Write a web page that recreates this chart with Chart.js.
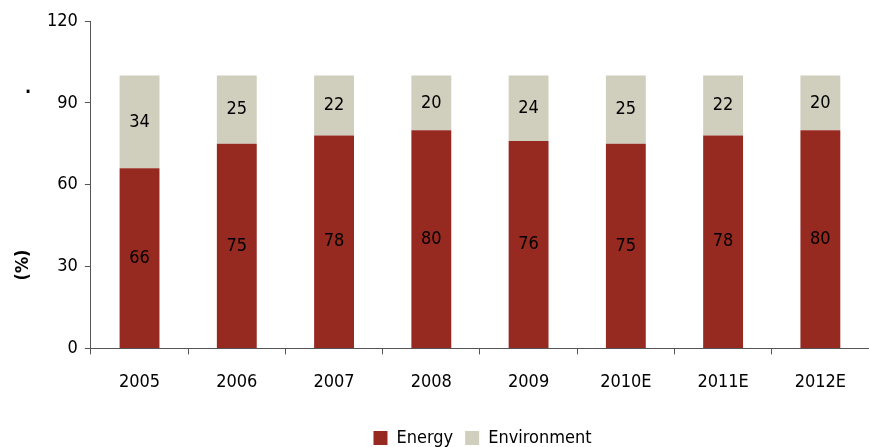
<!DOCTYPE html>
<html>
<head>
<meta charset="utf-8">
<script src="https://cdn.jsdelivr.net/npm/chart.js@4/dist/chart.umd.min.js"></script>
<style>
  html, body { margin: 0; padding: 0; background: #fff; }
  #wrap { width: 869px; height: 447px; position: relative; }
</style>
</head>
<body>
<div id="wrap"><canvas id="chartMix"></canvas></div>
<script>
const years = ['2005', '2006', '2007', '2008', '2009', '2010E', '2011E', '2012E'];
const energy = [66, 75, 78, 80, 76, 75, 78, 80];
const environment = [34, 25, 22, 20, 24, 25, 22, 20];
const yTicks = [0, 30, 60, 90, 120];

const FONT = '"DejaVu Sans Condensed", Roboto, sans-serif';

// value written in the middle of each stacked segment
const barLabels = {
    id: 'barLabels',
    afterDatasetsDraw(chart) {
        const c = chart.ctx;
        c.save();
        c.font = '18px ' + FONT;
        c.fillStyle = '#000';
        c.textAlign = 'center';
        c.textBaseline = 'middle';
        chart.data.datasets.forEach((ds, i) => {
            chart.getDatasetMeta(i).data.forEach((bar, j) => {
                const mid = (bar.y + bar.base) / 2;
                c.fillText(ds.data[j], bar.x, mid);
            });
        });
        c.restore();
    }
};

// unit label sits low on the left, with a stray dot above it
const unitLabel = {
    id: 'unitLabel',
    afterDraw(chart) {
        const c = chart.ctx;
        c.save();
        c.fillStyle = '#000';
        c.textAlign = 'center';
        c.textBaseline = 'middle';
        c.font = 'bold 18px ' + FONT;
        c.fillText('.', 28, 88);
        c.translate(23, 265);
        c.rotate(-Math.PI / 2);
        c.fillText('(%)', 0, 0);
        c.restore();
    }
};

// pull the legend down to the bottom edge and centre it under the bars
const legendLow = {
    id: 'legendLow',
    beforeInit(chart) {
        const fit = chart.legend.fit;
        chart.legend.fit = function () {
            fit.call(this);
            this.height -= 10;
        };
    },
    afterLayout(chart) {
        chart.legend.left += 28;
        chart.legend.right += 28;
    }
};

new Chart(document.getElementById('chartMix'), {
    type: 'bar',
    data: {
        labels: years,
        datasets: [{
            label: 'Energy',
            data: energy,
            backgroundColor: '#962920',
            barPercentage: 0.41,
            categoryPercentage: 1
        }, {
            label: 'Environment',
            data: environment,
            backgroundColor: '#d0cebc',
            barPercentage: 0.41,
            categoryPercentage: 1
        }]
    },
    options: {
        responsive: true,
        maintainAspectRatio: false,
        animation: false,
        layout: { padding: { top: 21, right: 0, left: 40, bottom: 0 } },
        scales: {
            x: {
                stacked: true,
                grid: { display: true, drawOnChartArea: false, tickLength: 6, color: '#555', offset: true },
                border: { color: '#555' },
                ticks: { color: '#000', font: { family: FONT, size: 18 }, padding: 17 },
                // leave room between the year labels and the legend
                afterFit: (scale) => { scale.height += 7; }
            },
            y: {
                stacked: true,
                min: 0,
                max: 120,
                afterBuildTicks: (axis) => { axis.ticks = yTicks.map(v => ({ value: v })); },
                grid: { display: true, drawOnChartArea: false, tickLength: 6, color: '#555' },
                border: { color: '#555' },
                ticks: { color: '#000', font: { family: FONT, size: 18 }, padding: 7 }
            }
        },
        plugins: {
            legend: {
                position: 'bottom',
                labels: { color: '#000', font: { family: FONT, size: 18 }, boxWidth: 14, boxHeight: 14, padding: 12 }
            },
            tooltip: { enabled: false }
        }
    },
    plugins: [barLabels, unitLabel, legendLow]
});
</script>
</body>
</html>
